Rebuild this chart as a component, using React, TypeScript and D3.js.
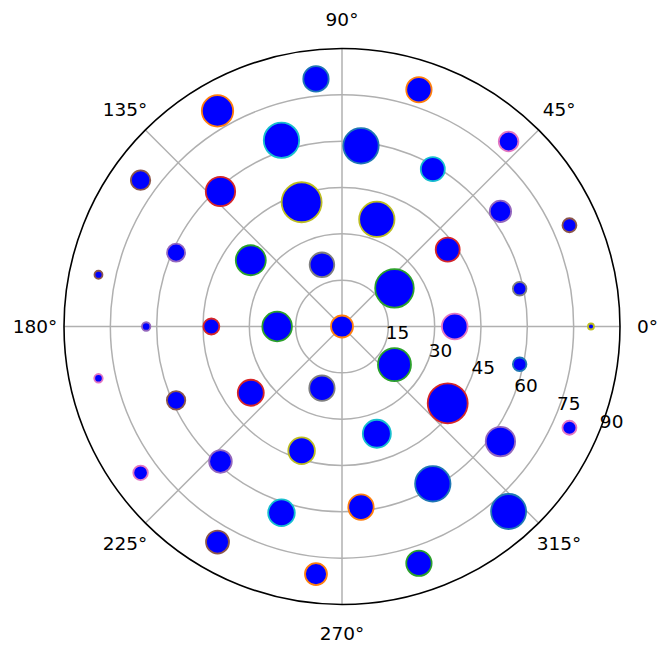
import React from 'react';
import * as d3 from 'd3';

// Polar scatter data (theta in degrees, r in data units)
const thetaDeg = [
  0,
  180, 36, 324, 108, 252,
  0, 36, 72, 108, 144, 180, 216, 252, 288, 324,
  12, 36, 60, 84, 108, 132, 156, 180, 204, 228, 252, 276, 300, 324, 348,
  0, 24, 48, 72, 96, 120, 144, 168, 192, 216, 240, 264, 288, 312, 336,
];
const radiusVal = [
  0,
  21, 21, 21, 21, 21,
  36.5, 42.3, 36.5, 42.3, 36.5, 42.3, 36.5, 42.3, 36.5, 42.3,
  58.8, 63.4, 58.8, 58.8, 63.4, 58.8, 58.8, 63.4, 58.8, 58.8, 63.4, 58.8, 58.8, 63.4, 58.8,
  80.6, 80.6, 80.6, 80.6, 80.6, 80.6, 80.6, 80.6, 80.6, 80.6, 80.6, 80.6, 80.6, 80.6, 80.6,
];
const sizeVal = [
  121,
  219, 372, 272, 151, 161,
  164, 144, 313, 400, 225, 64, 169, 177, 196, 400,
  46, 114, 144, 313, 313, 216, 81, 18, 85, 128, 177, 161, 313, 216, 46,
  9, 49, 96, 161, 161, 246, 94, 16, 18, 53, 132, 121, 161, 306, 49,
];
const edgeName = [
  'orange',
  'green', 'green', 'green', 'gray', 'gray',
  'pink', 'red', 'olive', 'olive', 'green', 'red', 'red', 'olive', 'cyan', 'red',
  'gray', 'purple', 'cyan', 'blue', 'cyan', 'red', 'purple', 'purple', 'brown', 'purple', 'cyan', 'orange', 'blue', 'purple', 'blue',
  'olive', 'brown', 'pink', 'orange', 'blue', 'orange', 'brown', 'brown', 'pink', 'pink', 'brown', 'orange', 'green', 'blue', 'pink',
];
const radialTicks = [15, 30, 45, 60, 75, 90];
const angleTicks = [0, 45, 90, 135, 180, 225, 270, 315];
const colorNames = ['blue', 'orange', 'green', 'red', 'purple', 'brown', 'pink', 'gray', 'olive', 'cyan'];

export default function App() {
  const W = 658, H = 647;
  const cx = 342, cy = 326.5, R = 278;
  const rScale = d3.scaleLinear().domain([0, 90]).range([0, R]);
  const sScale = d3.scaleSqrt().domain([0, 400]).range([0, 20]);
  const color = d3.scaleOrdinal<string, string>().domain(colorNames).range(d3.schemeCategory10);
  const pos = (deg: number, rPx: number) => {
    const a = (deg * Math.PI) / 180;
    return [cx + rPx * Math.cos(a), cy - rPx * Math.sin(a)];
  };
  const font = "'DejaVu Sans', sans-serif";
  const labelAngle = -22.5;

  return (
    <svg width={W} height={H} style={{ position: 'absolute', left: 0, top: 0 }}>
      <rect x={0} y={0} width={W} height={H} fill="#fff" />
      {radialTicks.slice(0, -1).map((t) => (
        <circle key={'g' + t} cx={cx} cy={cy} r={rScale(t)} fill="none" stroke="#b0b0b0" strokeWidth={1.5} />
      ))}
      {angleTicks.map((a) => {
        const [x2, y2] = pos(a, R);
        return <line key={'s' + a} x1={cx} y1={cy} x2={x2} y2={y2} stroke="#b0b0b0" strokeWidth={1.5} />;
      })}
      <circle cx={cx} cy={cy} r={R} fill="none" stroke="#000" strokeWidth={1.6} />
      {angleTicks.map((a) => {
        const [x, y] = pos(a, R + 29);
        return (
          <text key={'t' + a} x={a === 0 ? x - 1.5 : x} y={y} textAnchor="middle" dominantBaseline="central" fontFamily={font} fontSize={18.5} fill="#000">
            {a + '°'}
          </text>
        );
      })}
      {radialTicks.map((t) => {
        const [x, y] = pos(labelAngle, rScale(t));
        return (
          <text key={'r' + t} x={x + 12.8} y={y - 11.8} textAnchor="middle" dominantBaseline="central" fontFamily={font} fontSize={18.5} fill="#000">
            {t}
          </text>
        );
      })}
      {thetaDeg.map((th, i) => {
        const [x, y] = pos(th, rScale(radiusVal[i]));
        return (
          <circle key={'p' + i} cx={x} cy={y} r={sScale(sizeVal[i])} fill="#0000ff" stroke={color(edgeName[i])} strokeWidth={1.8} />
        );
      })}
    </svg>
  );
}
